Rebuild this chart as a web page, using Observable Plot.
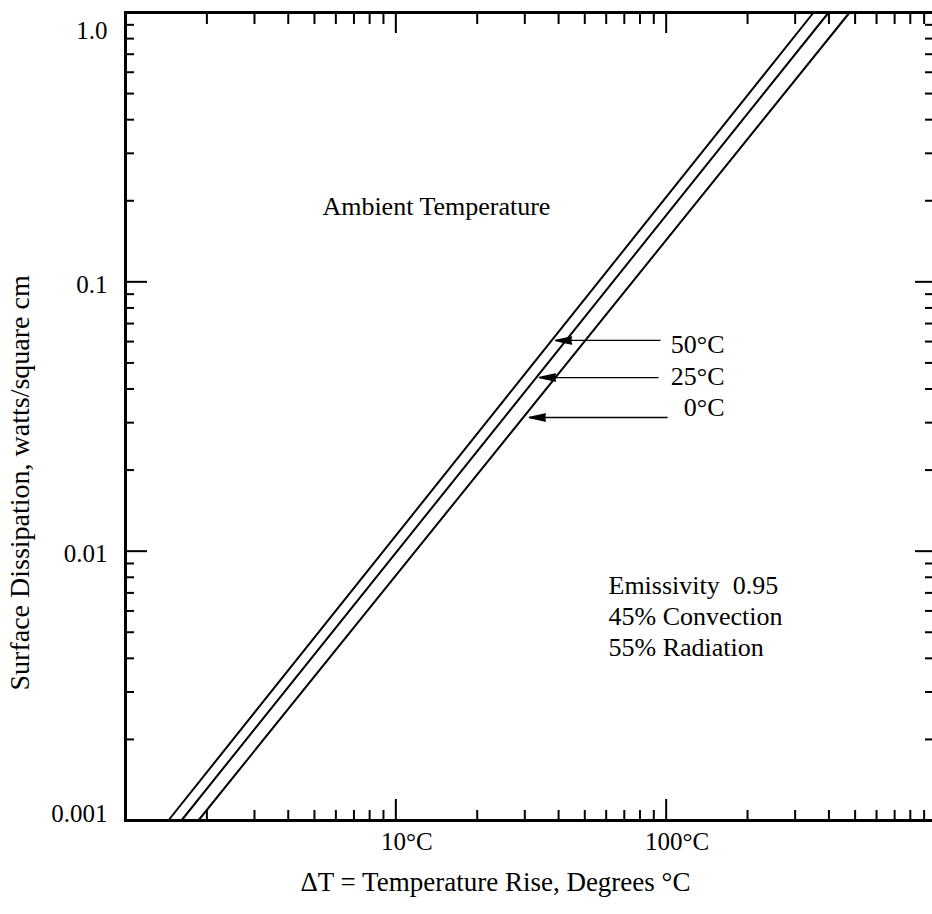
<!DOCTYPE html>
<html>
<head>
<meta charset="utf-8">
<script src="https://cdn.jsdelivr.net/npm/d3@7"></script>
<script src="https://cdn.jsdelivr.net/npm/@observablehq/plot@0.6"></script>
<style>
  html, body { margin: 0; padding: 0; background: #fff; overflow: hidden; }
  svg text { font-family: "Liberation Serif", "Times New Roman", serif; }
</style>
</head>
<body>
<div id="chart"></div>
<script>
// ---- data ----
const ambient = ["50°C", "25°C", "0°C"];
const dtAtLowP = [1.44, 1.61, 1.86];     // ΔT where dissipation = 0.001
const dtAtHighP = [351, 399, 477];       // ΔT where dissipation = 1.0
const pLow = 0.001, pHigh = 1.0;

const arrowTailDT = [95.3, 93.7, 101.2];
const arrowHeadDT = [39.0, 34.0, 31.2];
const arrowP = [0.0606, 0.0441, 0.03135];
const labelP = [0.0585, 0.0445, 0.0342];
const labelDT = 164.5;

const xMajor = [10, 100];
const xMajorLabels = ["10°C", "100°C"];
const xMinor = [2,3,4,5,6,7,8,9,20,30,40,50,60,70,80,90,200,300,400,500,600,700,800,900];
const yMajor = [1, 0.1, 0.01, 0.001];
const yMajorLabels = ["1.0", "0.1", "0.01", "0.001"];
const yMinor = [0.002,0.003,0.004,0.005,0.006,0.007,0.008,0.009,
                0.02,0.03,0.04,0.05,0.06,0.07,0.08,0.09,
                0.2,0.3,0.4,0.5,0.6,0.7,0.8,0.9];

const notes = [
  {text: "Ambient Temperature", x: 5.35, y: 0.19},
  {text: "Emissivity  0.95", x: 61.2, y: 0.00746},
  {text: "45% Convection", x: 61.2, y: 0.00572},
  {text: "55% Radiation", x: 61.2, y: 0.00439}
];
const xTitle = "ΔT = Temperature Rise, Degrees °C";
const yTitle = "Surface Dissipation, watts/square cm";

// ---- tables built from the arrays ----
const lineRows = ambient.flatMap((a, i) => [
  {ambient: a, dt: dtAtLowP[i], p: pLow},
  {ambient: a, dt: dtAtHighP[i], p: pHigh}
]);
const arrowRows = ambient.map((a, i) => ({
  ambient: a, tail: arrowTailDT[i], head: arrowHeadDT[i], p: arrowP[i], lp: labelP[i], ldt: labelDT
}));
const yLabelRows = yMajor.map((v, i) => ({v, label: yMajorLabels[i]}));
const xLabelRows = xMajor.map((v, i) => ({v, label: xMajorLabels[i]}));

const H = 808; // frame height in px
const W = 811; // frame width in px

const chart = Plot.plot({
  width: 932,
  height: 914,
  marginLeft: 125,
  marginRight: -4,
  marginTop: 12,
  marginBottom: 94,
  x: {type: "log", domain: [1, 1000], axis: null},
  y: {type: "log", domain: [0.001, 1], axis: null},
  style: {fontFamily: "Liberation Serif", fontSize: "26px", background: "white", color: "black"},
  marks: [
    // ticks bottom
    Plot.tickX(xMajor, {x: d => d, insetTop: H - 21, stroke: "black", strokeWidth: 2}),
    Plot.tickX(xMinor, {x: d => d, insetTop: H - 10, stroke: "black", strokeWidth: 2}),
    // ticks top
    Plot.tickX(xMajor, {x: d => d, insetBottom: H - 21, stroke: "black", strokeWidth: 2}),
    Plot.tickX(xMinor, {x: d => d, insetBottom: H - 12, stroke: "black", strokeWidth: 2}),
    // ticks left
    Plot.tickY(yMajor, {y: d => d, insetRight: W - 22, stroke: "black", strokeWidth: 2}),
    Plot.tickY(yMinor, {y: d => d, insetRight: W - 9, stroke: "black", strokeWidth: 2}),
    // ticks right
    Plot.tickY(yMajor, {y: d => d, insetLeft: W - 21, stroke: "black", strokeWidth: 2}),
    Plot.tickY(yMinor, {y: d => d, insetLeft: W - 11, stroke: "black", strokeWidth: 2}),
    Plot.frame({stroke: "black", strokeWidth: 3}),
    // tick labels
    Plot.text(yLabelRows, {filter: d => d.v === 1, y: "v", text: "label", frameAnchor: "left", textAnchor: "end", fontSize: 25, dx: -18, dy: 18}),
    Plot.text(yLabelRows, {filter: d => d.v === 0.1 || d.v === 0.01, y: "v", text: "label", frameAnchor: "left", textAnchor: "end", fontSize: 25, dx: -18, dy: 3}),
    Plot.text(yLabelRows, {filter: d => d.v === 0.001, y: "v", text: "label", frameAnchor: "left", textAnchor: "end", fontSize: 25, dx: -18, dy: -7}),
    Plot.text(xLabelRows, {x: "v", text: "label", frameAnchor: "bottom", textAnchor: "middle", fontSize: 25, dx: 11, dy: 29}),
    // curves
    Plot.line(lineRows, {x: "dt", y: "p", z: "ambient", stroke: "black", strokeWidth: 2}),
    // arrows
    Plot.link(arrowRows, {x1: "tail", x2: "head", y1: "p", y2: "p", stroke: "black", strokeWidth: 1.3}),
    Plot.vector(arrowRows, {x: "head", y: "p", length: 16, rotate: -90, anchor: "end", shape: "spike", r: 3.5, fill: "black", stroke: "black"}),
    Plot.text(arrowRows, {x: "ldt", y: "lp", text: "ambient", textAnchor: "end"}),
    // annotations
    Plot.text(notes, {x: "x", y: "y", text: "text", textAnchor: "start"}),
    // axis titles
    Plot.text([xTitle], {text: d => d, frameAnchor: "bottom", textAnchor: "start", fontSize: 27, dx: 300 - 530.5, dy: 70}),
    Plot.text([yTitle], {text: d => d, frameAnchor: "left", textAnchor: "start", rotate: -90, fontSize: 28, dx: -105, dy: 690 - 416})
  ]
});
document.getElementById("chart").appendChild(chart);
</script>
</body>
</html>
